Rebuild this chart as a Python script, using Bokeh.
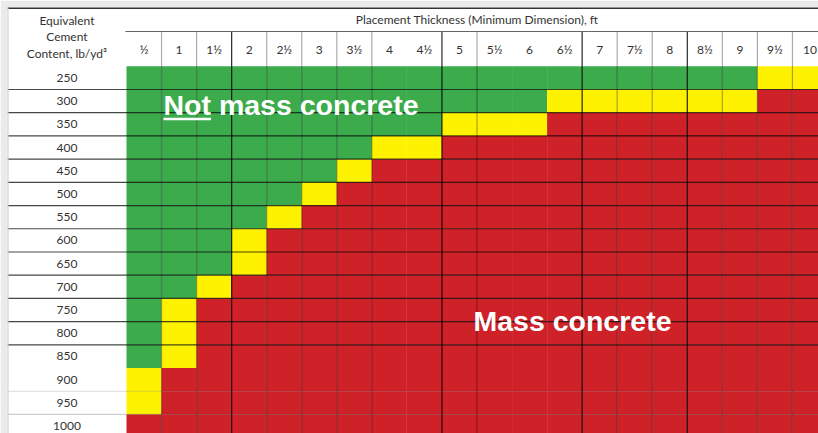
from bokeh.plotting import figure
from bokeh.models import Range1d, ColumnDataSource
from bokeh.embed import file_html
from bokeh.resources import INLINE
from bokeh.core.properties import value

# ---------------- data ----------------
thickness_labels = ["½", "1", "1½", "2", "2½", "3", "3½", "4", "4½", "5",
                    "5½", "6", "6½", "7", "7½", "8", "8½", "9", "9½", "10"]
thickness_ft = [0.5, 1.0, 1.5, 2.0, 2.5, 3.0, 3.5, 4.0, 4.5, 5.0,
                5.5, 6.0, 6.5, 7.0, 7.5, 8.0, 8.5, 9.0, 9.5, 10.0]
cement_content = [250, 300, 350, 400, 450, 500, 550, 600, 650, 700,
                  750, 800, 850, 900, 950, 1000]
# thickness (ft) from which a row becomes "borderline" (yellow) / "mass concrete" (red)
yellow_from_ft = [9.5, 6.5, 5.0, 4.0, 3.5, 3.0, 2.5, 2.0, 2.0, 1.5,
                  1.0, 1.0, 1.0, 0.5, 0.5, 0.5]
red_from_ft = [None, 9.5, 6.5, 5.0, 4.0, 3.5, 3.0, 2.5, 2.5, 2.0,
               1.5, 1.5, 1.5, 1.0, 1.0, 0.5]

title_x = "Placement Thickness (Minimum Dimension), ft"
title_y = ["Equivalent", "Cement", "Content, lb/yd³"]

GREEN, YELLOW, RED = "#3bab4b", "#fff200", "#cf2128"

# ---------------- layout (pixel geometry of the table) ----------------
W, H = 818, 433
ML, MT = 7, 7                 # grey page border inside the canvas
COL_W, ROW_H = 35.05, 23.21
X0, Y0 = 126.0, 65.8          # table cell origin in page pixels
LABEL_LEFT = (ML - X0) / COL_W
xr = Range1d((ML - X0) / COL_W, (W - X0) / COL_W)
yr = Range1d((H - Y0) / ROW_H, (MT - Y0) / ROW_H)

p = figure(width=W, height=H, x_range=xr, y_range=yr, output_backend="svg",
           toolbar_location=None, x_axis_type=None, y_axis_type=None,
           min_border_left=ML, min_border_top=MT, min_border_right=0, min_border_bottom=0,
           outline_line_color=None, background_fill_color="white",
           border_fill_color="#ebebeb")
p.grid.visible = False

# ---------------- cells ----------------
left, right, top, bottom, color = [], [], [], [], []
for j, c in enumerate(cement_content):
    yf = yellow_from_ft[j]
    rf = red_from_ft[j] if red_from_ft[j] is not None else float("inf")
    for i, t in enumerate(thickness_ft):
        left.append(i); right.append(i + 1); top.append(j); bottom.append(j + 1)
        color.append(RED if t >= rf else (YELLOW if t >= yf else GREEN))
cells = ColumnDataSource(dict(left=left, right=right, top=top, bottom=bottom, color=color))
p.quad(left="left", right="right", top="top", bottom="bottom", fill_color="color",
       line_color=None, source=cells)

n_cols, n_rows = len(thickness_ft), len(cement_content)

# ---------------- grid lines ----------------
h_alpha = {13: 0.0, 14: 0.15, 15: 0.2}
hs = dict(x0=[], x1=[], y0=[], y1=[], a=[])
for j in range(1, n_rows):
    a = h_alpha.get(j, 0.72)
    if a == 0:
        continue
    hs["x0"].append(LABEL_LEFT); hs["x1"].append(n_cols)
    hs["y0"].append(j); hs["y1"].append(j); hs["a"].append(a)
p.segment(x0="x0", y0="y0", x1="x1", y1="y1", line_alpha="a", line_color="black",
          line_width=1.2, source=ColumnDataSource(hs))

dark_k = {3, 9, 13, 16}
skip_k = {8, 11, 12}
vs = dict(x=[], a=[])
for k in range(1, n_cols):
    if k in skip_k:
        continue
    vs["x"].append(k); vs["a"].append(0.85 if k in dark_k else 0.33)
p.segment(x0="x", y0=-1.5, x1="x", y1=yr.start, line_alpha="a", line_color="black",
          line_width=1.2, source=ColumnDataSource(vs))

p.segment(x0=[-0.03], y0=[-1.5], x1=[xr.end], y1=[-1.5], line_color="#666", line_width=1)
p.segment(x0=[xr.start], y0=[yr.end], x1=[xr.end], y1=[yr.end], line_color="#333", line_width=3)
p.segment(x0=[xr.start], y0=[yr.end], x1=[xr.start], y1=[yr.start], line_color="#cccccc", line_width=2)

# ---------------- texts ----------------
FONT = value("Lato")
TXT = "#333333"
FS = "12px"
p.text(x=[n_cols / 2], y=[-2.0], text=[title_x], text_font=FONT, text_font_size=FS,
       text_color=TXT, text_align="center", text_baseline="middle")
p.text(x=[i + 0.5 for i in range(n_cols)], y=[-0.72] * n_cols, text=thickness_labels,
       text_font=FONT, text_font_size=FS, text_color=TXT,
       text_align="center", text_baseline="middle")
p.text(x=[-1.7] * n_rows, y=[j + 0.5 for j in range(n_rows)],
       text=[str(c) for c in cement_content], text_font=FONT, text_font_size=FS,
       text_color=TXT, text_align="center", text_baseline="middle")
p.text(x=[-1.7] * 3, y=[-1.97, -1.27, -0.55], text=title_y, text_font=FONT,
       text_font_size=FS, text_color=TXT, text_align="center", text_baseline="middle")

BIG = value("Liberation Sans")
BIG_FS = 28.5
not_y = (104 - Y0) / ROW_H
p.text(x=[1.056], y=[not_y], text=["Not mass concrete"], text_font=BIG,
       text_font_size=f"{BIG_FS}px", text_font_style="bold", text_color="white",
       text_align="left", text_baseline="middle")
p.segment(x0=[1.056], y0=[not_y + 14.5 / ROW_H], x1=[1.056 + 0.1666 * BIG_FS / COL_W * 10],
          y1=[not_y + 14.5 / ROW_H], line_color="white", line_width=2.5)
p.text(x=[9.9], y=[(320 - Y0) / ROW_H], text=["Mass concrete"], text_font=BIG,
       text_font_size=f"{BIG_FS}px", text_font_style="bold", text_color="white",
       text_align="left", text_baseline="middle")

open("out.html", "w").write(file_html(p, INLINE))
